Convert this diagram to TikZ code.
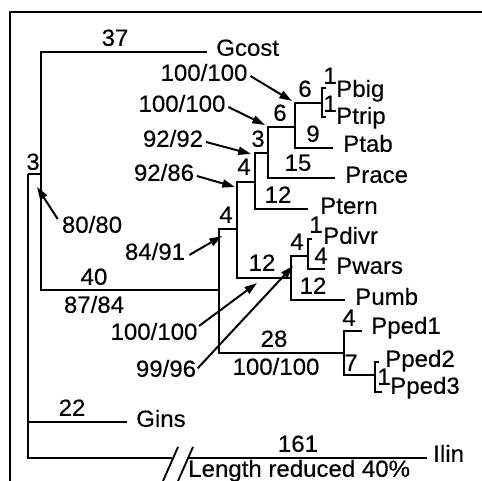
\documentclass[tikz,border=0pt]{standalone}
\usepackage{fontspec}
\setmainfont{Liberation Sans}[FakeStretch=1.03,FakeBold=0.3]
\usepackage{tikz}
\usetikzlibrary{arrows.meta,positioning,calc}
\tikzset{
  txt/.style={inner sep=0pt, text height=0.716em, text depth=0pt,
    font=\fontsize{17.5}{20}\selectfont},
  blen/.style={txt},
  taxon/.style={txt, anchor=west},
  supp/.style={txt},
  branch/.style={line width=1.7pt},
  tick/.style={line width=1.3pt},
  frame/.style={line width=1.6pt},
  sarrow/.style={-{Triangle[length=9.5pt,width=6pt]}, line width=1.5pt},
  brk/.style={line width=1.4pt}
}

\begin{document}
\begin{tikzpicture}[x=0.75pt, y=-0.75pt]
  \useasboundingbox (0,0) rectangle (482,481);
  % frame of the panel
  \draw[frame] (482,12) -| (10,481);

  % internal nodes
  \coordinate (root) at (28,174);
  \coordinate (nA) at (41,174);
  \coordinate (nB) at (219,290);
  \coordinate (nC) at (237,229);
  \coordinate (nE) at (255,182);
  \coordinate (nG) at (268,153);
  \coordinate (nH) at (295,127);
  \coordinate (nI) at (322,103);
  \coordinate (nF) at (291,278);
  \coordinate (nJ) at (308,256);
  \coordinate (nD) at (344,353);
  \coordinate (nK) at (375,375);

  % branch tips
  \coordinate (tGcost) at (207,52);
  \coordinate (tPbig) at (326,88);
  \coordinate (tPtrip) at (326,117);
  \coordinate (tPtab) at (333,148);
  \coordinate (tPrace) at (335,178);
  \coordinate (tPtern) at (308,209);
  \coordinate (tPdivr) at (312,239);
  \coordinate (tPwars) at (325,269);
  \coordinate (tPumb) at (345,300);
  \coordinate (tPped1) at (362,331);
  \coordinate (tPped2) at (379,362);
  \coordinate (tPped3) at (382,392);
  \coordinate (tGins) at (127,422);
  \coordinate (bkL) at (172,458);
  \coordinate (bkR) at (187,458);
  \coordinate (tIlin) at (427,458);

  % taxa
  \node[taxon] (Gcost) at (216,51) {Gcost};
  \node[taxon] (Pbig) at (336,92) {Pbig};
  \node[taxon] (Ptrip) at (336,119) {Ptrip};
  \node[taxon] (Ptab) at (343,147) {Ptab};
  \node[taxon] (Prace) at (345,178) {Prace};
  \node[taxon] (Ptern) at (320,209) {Ptern};
  \node[taxon] (Pdivr) at (323,239) {Pdivr};
  \node[taxon] (Pwars) at (336,269) {Pwars};
  \node[taxon] (Pumb) at (355,300) {Pumb};
  \node[taxon] (Pped1) at (371,329) {Pped1};
  \node[taxon] (Pped2) at (385,362) {Pped2};
  \node[taxon] (Pped3) at (390,389) {Pped3};
  \node[taxon] (Gins) at (136,422) {Gins};
  \node[taxon] (Ilin) at (433,457) {Ilin};

  % branches
  \draw[branch] (root) |- (nA);
  \draw[branch] (root) |- (tGins);
  \draw[branch] (root) |- (bkL);
  \draw[branch] (bkR) -- (tIlin);
  \draw[branch] (nA) |- (tGcost);
  \draw[branch] (nA) |- (nB);
  \draw[branch] (nB) |- (nC);
  \draw[branch] (nB) |- (nD);
  \draw[branch] (nC) |- (nE);
  \draw[branch] (nC) |- (nF);
  \draw[branch] (nE) |- (nG);
  \draw[branch] (nE) |- (tPtern);
  \draw[branch] (nG) |- (nH);
  \draw[branch] (nG) |- (tPrace);
  \draw[branch] (nH) |- (nI);
  \draw[branch] (nH) |- (tPtab);
  \draw[tick] (nI) |- (tPbig);
  \draw[tick] (nI) |- (tPtrip);
  \draw[branch] (nF) |- (nJ);
  \draw[branch] (nF) |- (tPumb);
  \draw[tick] (nJ) |- (tPdivr);
  \draw[branch] (nJ) |- (tPwars);
  \draw[branch] (nD) |- (tPped1);
  \draw[branch] (nD) |- (nK);
  \draw[tick] (nK) |- (tPped2);
  \draw[tick] (nK) |- (tPped3);

  % break of the Ilin branch
  \coordinate (s1a) at (163,481); \coordinate (s1b) at (178,447);
  \coordinate (s2a) at (178,481); \coordinate (s2b) at (193,447);
  \draw[brk] (s1a) -- (s1b);
  \draw[brk] (s2a) -- (s2b);
  \node[txt, anchor=west] (cut) at (188,472) {Length reduced 40\%};

  % branch lengths
  \node[blen] (l37) at (115,41) {37};
  \node[blen] (l3r) at (33,165) {3};
  \node[blen] (l40) at (94,280) {40};
  \node[blen] (l22) at (72,411) {22};
  \node[blen] (l161) at (298,447) {161};
  \node[blen] (l6a) at (305,92) {6};
  \node[blen] (l1a) at (330,79) {1};
  \node[blen] (l1b) at (330,107) {1};
  \node[blen] (l6b) at (280,116) {6};
  \node[blen] (l9) at (313,137) {9};
  \node[blen] (l3) at (258,142) {3};
  \node[blen] (l15) at (298,166) {15};
  \node[blen] (l4a) at (244,170) {4};
  \node[blen] (l12a) at (278,198) {12};
  \node[blen] (l4b) at (226,218) {4};
  \node[blen] (l12b) at (262,266) {12};
  \node[blen] (l4c) at (297,245) {4};
  \node[blen] (l1c) at (316,228) {1};
  \node[blen] (l4d) at (321,259) {4};
  \node[blen] (l12c) at (313,289) {12};
  \node[blen] (l28) at (274,342) {28};
  \node[blen] (l4e) at (349,321) {4};
  \node[blen] (l7) at (351,366) {7};
  \node[blen] (l1d) at (384,380) {1};

  % support values
  \node[supp] (s1) at (204,76) {100/100};
  \node[supp] (s2) at (182,107) {100/100};
  \node[supp] (s3) at (173,142) {92/92};
  \node[supp] (s4) at (164,176) {92/86};
  \node[supp] (s5) at (92,228) {80/80};
  \node[supp] (s6) at (155,255) {84/91};
  \node[supp] (s7) at (154,335) {100/100};
  \node[supp] (s8) at (166,372) {99/96};
  \node[supp] (s9) at (94,308) {87/84};
  \node[supp] (s10) at (276,370) {100/100};
  \coordinate (a1) at (292,101);
  \coordinate (a2) at (265,125);
  \coordinate (a3) at (251,154);
  \coordinate (a4) at (235,187);
  \coordinate (a5) at (37,187);
  \coordinate (a6) at (222,236);
  \coordinate (a7) at (257,283);
  \coordinate (a8) at (293,266);
  \draw[sarrow] ([xshift=2pt]s1.east) -- (a1);
  \draw[sarrow] ([xshift=2pt]s2.east) -- (a2);
  \draw[sarrow] ([xshift=2pt]s3.east) -- (a3);
  \draw[sarrow] ([xshift=2pt]s4.east) -- (a4);
  \draw[sarrow] ([shift={(-3pt,3pt)}]s5.north west) -- (a5);
  \draw[sarrow] ([xshift=3pt]s6.east) -- (a6);
  \draw[sarrow] ([shift={(1pt,3pt)}]s7.north east) -- (a7);
  \draw[sarrow] ([shift={(1pt,-1pt)}]s8.north east) -- (a8);
\end{tikzpicture}
\end{document}
